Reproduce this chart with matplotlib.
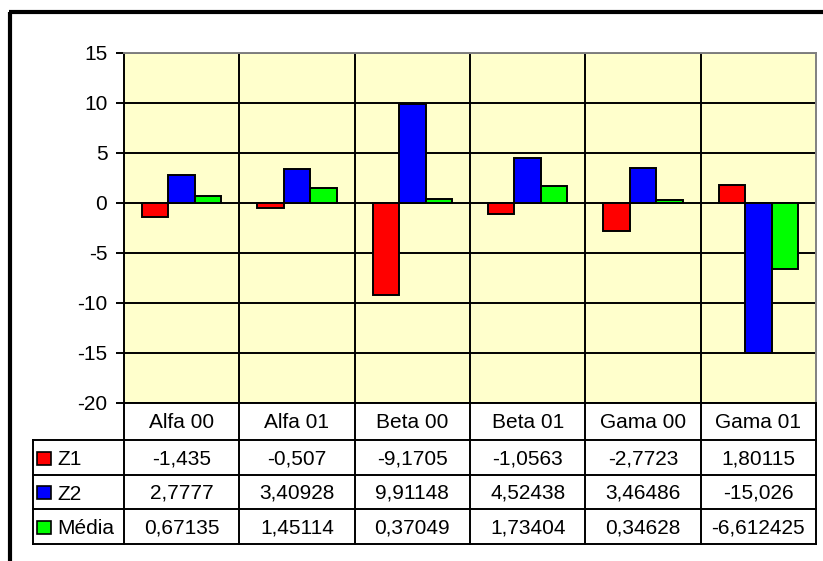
import matplotlib.pyplot as plt
from matplotlib.patches import Rectangle
import numpy as np

plt.rcParams['font.family'] = ['Liberation Sans', 'DejaVu Sans']
plt.rcParams['axes.unicode_minus'] = False

categories = ["Alfa 00", "Alfa 01", "Beta 00", "Beta 01", "Gama 00", "Gama 01"]
series_names = ["Z1", "Z2", "Média"]
z1 = [-1.435, -0.507, -9.1705, -1.0563, -2.7723, 1.80115]
z2 = [2.7777, 3.40928, 9.91148, 4.52438, 3.46486, -15.026]
media = [0.67135, 1.45114, 0.37049, 1.73404, 0.34628, -6.612425]
z1_txt = ["-1,435", "-0,507", "-9,1705", "-1,0563", "-2,7723", "1,80115"]
z2_txt = ["2,7777", "3,40928", "9,91148", "4,52438", "3,46486", "-15,026"]
media_txt = ["0,67135", "1,45114", "0,37049", "1,73404", "0,34628", "-6,612425"]
colors = ["#FF0000", "#0000FF", "#00FF00"]

W, H = 823, 561
fig = plt.figure(figsize=(W / 100, H / 100), dpi=100)

# pixel overlay for frame and data table
bg = fig.add_axes([0, 0, 1, 1])
bg.set_xlim(0, W)
bg.set_ylim(H, 0)
bg.axis("off")

# plot area in pixels
px0, px1, py0, py1 = 124, 816, 53, 403
ax = fig.add_axes([px0 / W, 1 - py1 / H, (px1 - px0) / W, (py1 - py0) / H])
ax.set_facecolor("#FFFFCC")

x = np.arange(len(categories))
bw = 0.23
for i, (vals, c) in enumerate(zip([z1, z2, media], colors)):
    ax.bar(x + (i - 1) * bw, vals, bw, color=c, edgecolor="black",
           linewidth=1.4, zorder=3)

ax.set_xlim(-0.5, len(categories) - 0.5)
ax.set_ylim(-20, 15)
ax.set_yticks(range(-20, 16, 5))
ax.yaxis.grid(True, color="black", linewidth=1.4, zorder=1)
for b in np.arange(0.5, len(categories) - 0.5, 1):
    ax.axvline(b, color="black", linewidth=1.4, zorder=1)
ax.set_xticks([])
ax.tick_params(axis="y", direction="out", length=6, width=1.4, labelsize=15, pad=6)
ax.spines["left"].set_linewidth(1.4)
ax.spines["bottom"].set_linewidth(1.4)
ax.spines["top"].set_color("#808080")
ax.spines["right"].set_color("#808080")
ax.spines["top"].set_linewidth(1.4)
ax.spines["right"].set_linewidth(1.4)

# outer frame (top and left only)
bg.plot([9, W], [12, 12], color="black", lw=3, solid_capstyle="butt")
bg.plot([10.5, 10.5], [12, H], color="black", lw=3, solid_capstyle="butt")

# data table
colw = (px1 - px0) / len(categories)
rows = [403, 440, 475, 509, 544]
lx = 33
lw = 1.4
for y in rows[1:]:
    bg.plot([lx, px1], [y, y], color="black", lw=lw)
bg.plot([lx, lx], [rows[1], rows[-1]], color="black", lw=lw)
for j in range(len(categories) + 1):
    bg.plot([px0 + j * colw] * 2, [rows[0], rows[-1]], color="black", lw=lw)

for j, cat in enumerate(categories):
    cx = px0 + (j + 0.5) * colw
    bg.text(cx, (rows[0] + rows[1]) / 2 + 1, cat, ha="center", va="center", fontsize=15)
    for r, txt in enumerate([z1_txt, z2_txt, media_txt]):
        bg.text(cx, (rows[r + 1] + rows[r + 2]) / 2 + 1, txt[j], ha="center",
                va="center", fontsize=15)

for r, (name, c) in enumerate(zip(series_names, colors)):
    cy = (rows[r + 1] + rows[r + 2]) / 2
    bg.add_patch(Rectangle((37, cy - 6), 14, 13, facecolor=c, edgecolor="black", lw=1.2))
    bg.text(57, cy + 2, name, ha="left", va="center", fontsize=15)

fig.savefig("out.png", dpi=100)
